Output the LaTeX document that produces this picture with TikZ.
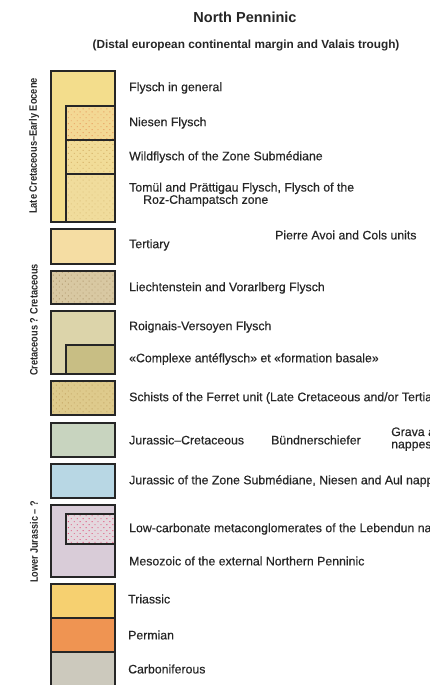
\documentclass[tikz,border=0pt]{standalone}
\usepackage{fontspec}
\setmainfont{Liberation Sans}
\newfontfamily\medfont{Liberation Sans}[FakeBold=0.35]
\usetikzlibrary{patterns.meta}
\definecolor{cFly}{HTML}{F3DD8C}
\definecolor{cNie}{HTML}{F3D894}
\definecolor{dNie}{HTML}{E79A5A}
\definecolor{cWil}{HTML}{F1DC98}
\definecolor{dWil}{HTML}{D2AC62}
\definecolor{cTom}{HTML}{F0DC9C}
\definecolor{dTom}{HTML}{DDC07A}
\definecolor{cTer}{HTML}{F5DDA3}
\definecolor{cLie}{HTML}{D8C8A2}
\definecolor{dLie}{HTML}{AE966A}
\definecolor{cRoi}{HTML}{DCD4AA}
\definecolor{cCom}{HTML}{C8BE84}
\definecolor{cSch}{HTML}{DECA8C}
\definecolor{dSch}{HTML}{C4A462}
\definecolor{cJuc}{HTML}{C8D4BF}
\definecolor{cJur}{HTML}{B8D7E4}
\definecolor{cMes}{HTML}{D9CCD8}
\definecolor{cLow}{HTML}{E4D8DE}
\definecolor{dLow}{HTML}{E0507A}
\definecolor{cTri}{HTML}{F6D070}
\definecolor{cPer}{HTML}{EF9452}
\definecolor{cCar}{HTML}{CCC9BD}
\definecolor{ink}{HTML}{262626}
\tikzset{
  outline/.style={draw=ink, line width=1.3pt},
  dotted fill/.style={pattern={Dots[distance=4.2pt, radius=0.65pt, angle=45]}, pattern color=#1},
  lbl/.style={anchor=west, font=\medfont\fontsize{12.3}{12.3}\selectfont, text=ink, inner sep=0pt, align=left},
  era/.style={rotate=90, font=\fontsize{10.8}{11}\selectfont\bfseries, text=ink, inner sep=0pt},
}
\begin{document}
\begin{tikzpicture}[x=1pt,y=-1pt]
\useasboundingbox (0,0) rectangle (430,685);
\clip (0,0) rectangle (430,685);
\fill[white] (0,0) rectangle (430,685);
% titles
\node[font=\fontsize{14.5}{16}\selectfont\bfseries, text=ink] (title) at (245,17) {North Penninic};
\node[font=\fontsize{11.8}{13}\selectfont\bfseries, text=ink] (subtitle) at (246,45) {(Distal european continental margin and Valais trough)};
% era labels
\node[era] (era1) at (34,146) {\scalebox{0.86}[1]{Late Cretaceous–Early Eocene}};
\node[era] (era2) at (34,320) {\scalebox{0.85}[1]{Cretaceous ? Cretaceous}};
\node[era] (era3) at (34,542) {\scalebox{0.84}[1]{Lower Jurassic – ?}};
% Flysch block
\fill[cFly] (51,71) rectangle (115,222);
\fill[cNie] (66,106) rectangle (115,140);
\fill[dotted fill=dNie] (66,106) rectangle (115,140);
\fill[cWil] (66,140) rectangle (115,174);
\fill[dotted fill=dWil] (66,140) rectangle (115,174);
\fill[cTom] (66,174) rectangle (115,222);
\fill[dotted fill=dTom] (66,174) rectangle (115,222);
\draw[outline] (66,106) rectangle (115,140);
\draw[outline] (66,140) rectangle (115,174);
\draw[outline] (66,174) rectangle (115,222);
\draw[outline] (51,71) rectangle (115,222);
% Tertiary
\draw[outline, fill=cTer] (51,229) rectangle (115,264);
% Liechtenstein
\fill[cLie] (51,271) rectangle (115,304);
\fill[dotted fill=dLie] (51,271) rectangle (115,304);
\draw[outline] (51,271) rectangle (115,304);
% Roignais
\fill[cRoi] (51,311) rectangle (115,374);
\draw[outline, fill=cCom] (66,345) rectangle (115,374);
\draw[outline] (51,311) rectangle (115,374);
% Schists
\fill[cSch] (51,381) rectangle (115,415);
\fill[dotted fill=dSch] (51,381) rectangle (115,415);
\draw[outline] (51,381) rectangle (115,415);
% Jurassic-Cretaceous
\draw[outline, fill=cJuc] (51,423) rectangle (115,457);
% Jurassic
\draw[outline, fill=cJur] (51,464) rectangle (115,498);
% Mesozoic
\fill[cMes] (51,505) rectangle (115,577);
\fill[cLow] (66,514) rectangle (115,544);
\fill[dotted fill=dLow] (66,514) rectangle (115,544);
\draw[outline] (66,514) rectangle (115,544);
\draw[outline] (51,505) rectangle (115,577);
% Triassic, Permian, Carboniferous
\draw[outline, fill=cTri] (51,584) rectangle (115,618);
\draw[outline, fill=cPer] (51,618) rectangle (115,652);
\draw[outline, fill=cCar] (51,652) rectangle (115,692);
% labels
\node[lbl] (l1) at (129,88) {Flysch in general};
\node[lbl] (l2) at (129,123) {Niesen Flysch};
\node[lbl] (l3) at (129,157) {Wildflysch of the Zone Submédiane};
\node[lbl] (l4) at (129,194.5) {Tomül and Prättigau Flysch, Flysch of the\\\hspace*{14pt}Roz-Champatsch zone};
\node[lbl] (l5) at (129,245) {Tertiary};
\node[lbl] (l5b) at (275,235) {Pierre Avoi and Cols units};
\node[lbl] (l6) at (129,288) {Liechtenstein and Vorarlberg Flysch};
\node[lbl] (l7) at (129,327) {Roignais-Versoyen Flysch};
\node[lbl] (l8) at (129,359) {«Complexe antéflysch» et «formation basale»};
\node[lbl] (l9) at (129,398) {Schists of the Ferret unit (Late Cretaceous and/or Tertiary)};
\node[lbl] (l10) at (129,440) {Jurassic–Cretaceous};
\node[lbl] (l10b) at (271,440) {Bündnerschiefer};
\node[lbl] (l10c) at (391,439) {Grava and\\nappes};
\node[lbl] (l11) at (129,481) {Jurassic of the Zone Submédiane, Niesen and Aul nappes};
\node[lbl] (l12) at (129,529) {Low-carbonate metaconglomerates of the Lebendun nappe};
\node[lbl] (l13) at (129,561) {Mesozoic of the external Northern Penninic};
\node[lbl] (l14) at (128,599) {Triassic};
\node[lbl] (l15) at (128,635) {Permian};
\node[lbl] (l16) at (128,669) {Carboniferous};
\end{tikzpicture}
\end{document}
